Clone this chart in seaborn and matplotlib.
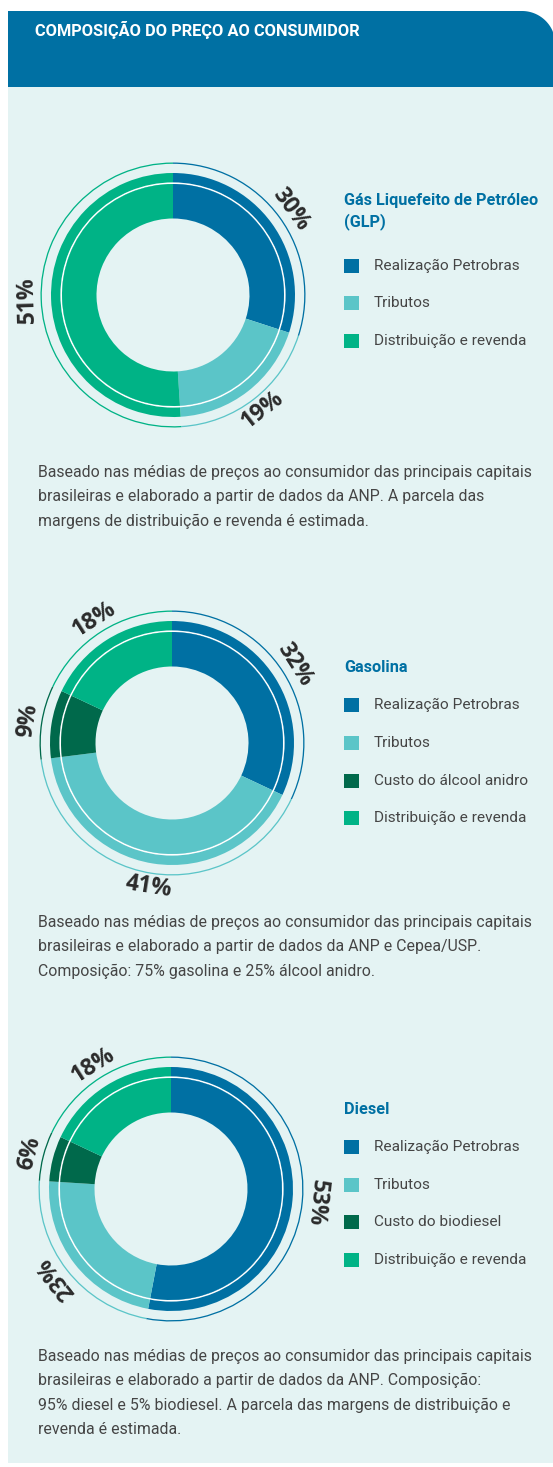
import numpy as np
import matplotlib
matplotlib.use("Agg")
import matplotlib.pyplot as plt
import seaborn as sns
import pandas as pd
from matplotlib.patches import Rectangle, Polygon

# ---------------- data ----------------
TITLE = "COMPOSIÇÃO DO PREÇO AO CONSUMIDOR"

glp_title = "Gás Liquefeito de Petróleo\n(GLP)"
glp_labels = ["Realização Petrobras", "Tributos", "Distribuição e revenda"]
glp_values = [30, 19, 51]
glp_note = ("Baseado nas médias de preços ao consumidor das principais capitais\n"
            "brasileiras e elaborado a partir de dados da ANP. A parcela das\n"
            "margens de distribuição e revenda é estimada.")

gas_title = "Gasolina"
gas_labels = ["Realização Petrobras", "Tributos", "Custo do álcool anidro", "Distribuição e revenda"]
gas_values = [32, 41, 9, 18]
gas_note = ("Baseado nas médias de preços ao consumidor das principais capitais\n"
            "brasileiras e elaborado a partir de dados da ANP e Cepea/USP.\n"
            "Composição: 75% gasolina e 25% álcool anidro.")

die_title = "Diesel"
die_labels = ["Realização Petrobras", "Tributos", "Custo do biodiesel", "Distribuição e revenda"]
die_values = [53, 23, 6, 18]
die_note = ("Baseado nas médias de preços ao consumidor das principais capitais\n"
            "brasileiras e elaborado a partir de dados da ANP. Composição:\n"
            "95% diesel e 5% biodiesel. A parcela das margens de distribuição e\n"
            "revenda é estimada.")

# ---------------- style ----------------
C_BLUE = "#0070A3"
C_TEAL = "#5BC5C8"
C_DARK = "#00694B"
C_GREEN = "#00B386"
C_PANEL = "#E4F3F3"
C_TEXT = "#454545"
C_PCT = "#2B2B2B"

def seg_color(label):
    if label.startswith("Realiza"):
        return C_BLUE
    if label.startswith("Tributos"):
        return C_TEAL
    if label.startswith("Custo"):
        return C_DARK
    return C_GREEN

sns.set_theme(style="white")
plt.rcParams["font.family"] = ["Roboto", "DejaVu Sans"]

W, H = 553, 1467
fig = plt.figure(figsize=(W / 100, H / 100), dpi=100)
ax = fig.add_axes([0, 0, 1, 1])

def Y(y):
    return H - y

# background panel + header
ax.add_patch(Rectangle((8, Y(1463)), W - 8, 1463 - 87, facecolor=C_PANEL, edgecolor="none", zorder=0))
r_c, cxc, cyc = 33.4, 522, 11 + 33.4
ang = np.linspace(90, 0, 40)
arc = [(cxc + r_c * np.cos(np.radians(a)), Y(cyc - r_c * np.sin(np.radians(a)))) for a in ang]
arc = [(min(x, W), y) for x, y in arc]
hdr = [(8, Y(87)), (8, Y(11))] + arc + [(W, Y(87))]
ax.add_patch(Polygon(hdr, closed=True, facecolor=C_BLUE, edgecolor="none", zorder=1))
ax.text(35, Y(29.5), TITLE, color="white", fontsize=11.8, fontweight="bold",
        ha="left", va="center", zorder=5)

R_HOLE, R_IN, R_BAND, R_LINE = 76.5, 111.0, 122.0, 132.5

def donut(values, labels, cx, cy):
    cols = [seg_color(l) for l in labels]
    common = dict(startangle=90, counterclock=False, center=(cx, Y(cy)), frame=True)
    ax.pie(values, colors=cols, radius=R_LINE, wedgeprops=dict(width=1.3, linewidth=0), **common)
    ax.pie(values, colors=cols, radius=R_BAND, wedgeprops=dict(width=R_BAND - R_IN, linewidth=0), **common)
    ax.pie([1], colors=["white"], radius=R_IN + 1.6, wedgeprops=dict(width=1.6, linewidth=0), **common)
    ax.pie(values, colors=cols, radius=R_IN, wedgeprops=dict(width=R_IN - R_HOLE, linewidth=0), **common)
    # percentage labels around
    starts = np.concatenate([[0], np.cumsum(values)[:-1]])
    for v, s0 in zip(values, starts):
        th = 90 - (s0 + v / 2) * 3.6
        th = (th + 180) % 360 - 180
        rad = np.radians(th)
        x = cx + 146 * np.cos(rad)
        y = Y(cy) + 146 * np.sin(rad)
        rot = th + 90 if -120 < th < -30 else th - 90
        ax.text(x, y, f"{v}%", rotation=rot, rotation_mode="anchor", ha="center", va="center",
                fontsize=16.5, fontweight="bold", color=C_PCT, zorder=6,
                family=["Open Sans", "DejaVu Sans"])

def legend(title, labels, title_y, rows_y):
    for i, line in enumerate(title.split("\n")):
        ax.text(344, Y(title_y + 21 * i), line, color=C_BLUE, fontsize=11.7, fontweight="bold",
                ha="left", va="center", zorder=5)
    df = pd.DataFrame({"x": [351.5] * len(labels), "y": [Y(v) for v in rows_y], "lab": labels})
    sns.scatterplot(data=df, x="x", y="y", hue="lab", palette={l: seg_color(l) for l in labels},
                    marker="s", s=105, linewidth=0, legend=False, ax=ax, zorder=5)
    for lab, yy in zip(labels, rows_y):
        ax.text(374, Y(yy), lab, color=C_TEXT, fontsize=11.1, ha="left", va="center", zorder=5)

def note(text, y0):
    for i, line in enumerate(text.split("\n")):
        ax.text(38, Y(y0 + 24.5 * i), line, color=C_TEXT, fontsize=11.4, ha="left", va="center",
                zorder=5)

donut(glp_values, glp_labels, 173, 295)
legend(glp_title, glp_labels, 201, [266, 303, 341])
note(glp_note, 472)

donut(gas_values, gas_labels, 172, 743)
legend(gas_title, gas_labels, 668, [705, 743, 781, 818])
note(gas_note, 922)

donut(die_values, die_labels, 171, 1189)
legend(die_title, die_labels, 1110, [1147, 1185, 1222, 1260])
note(die_note, 1356)

ax.set_xlim(0, W)
ax.set_ylim(0, H)
ax.set_aspect("equal", adjustable="box")
ax.axis("off")
fig.savefig("out.png", dpi=100, facecolor="white")
